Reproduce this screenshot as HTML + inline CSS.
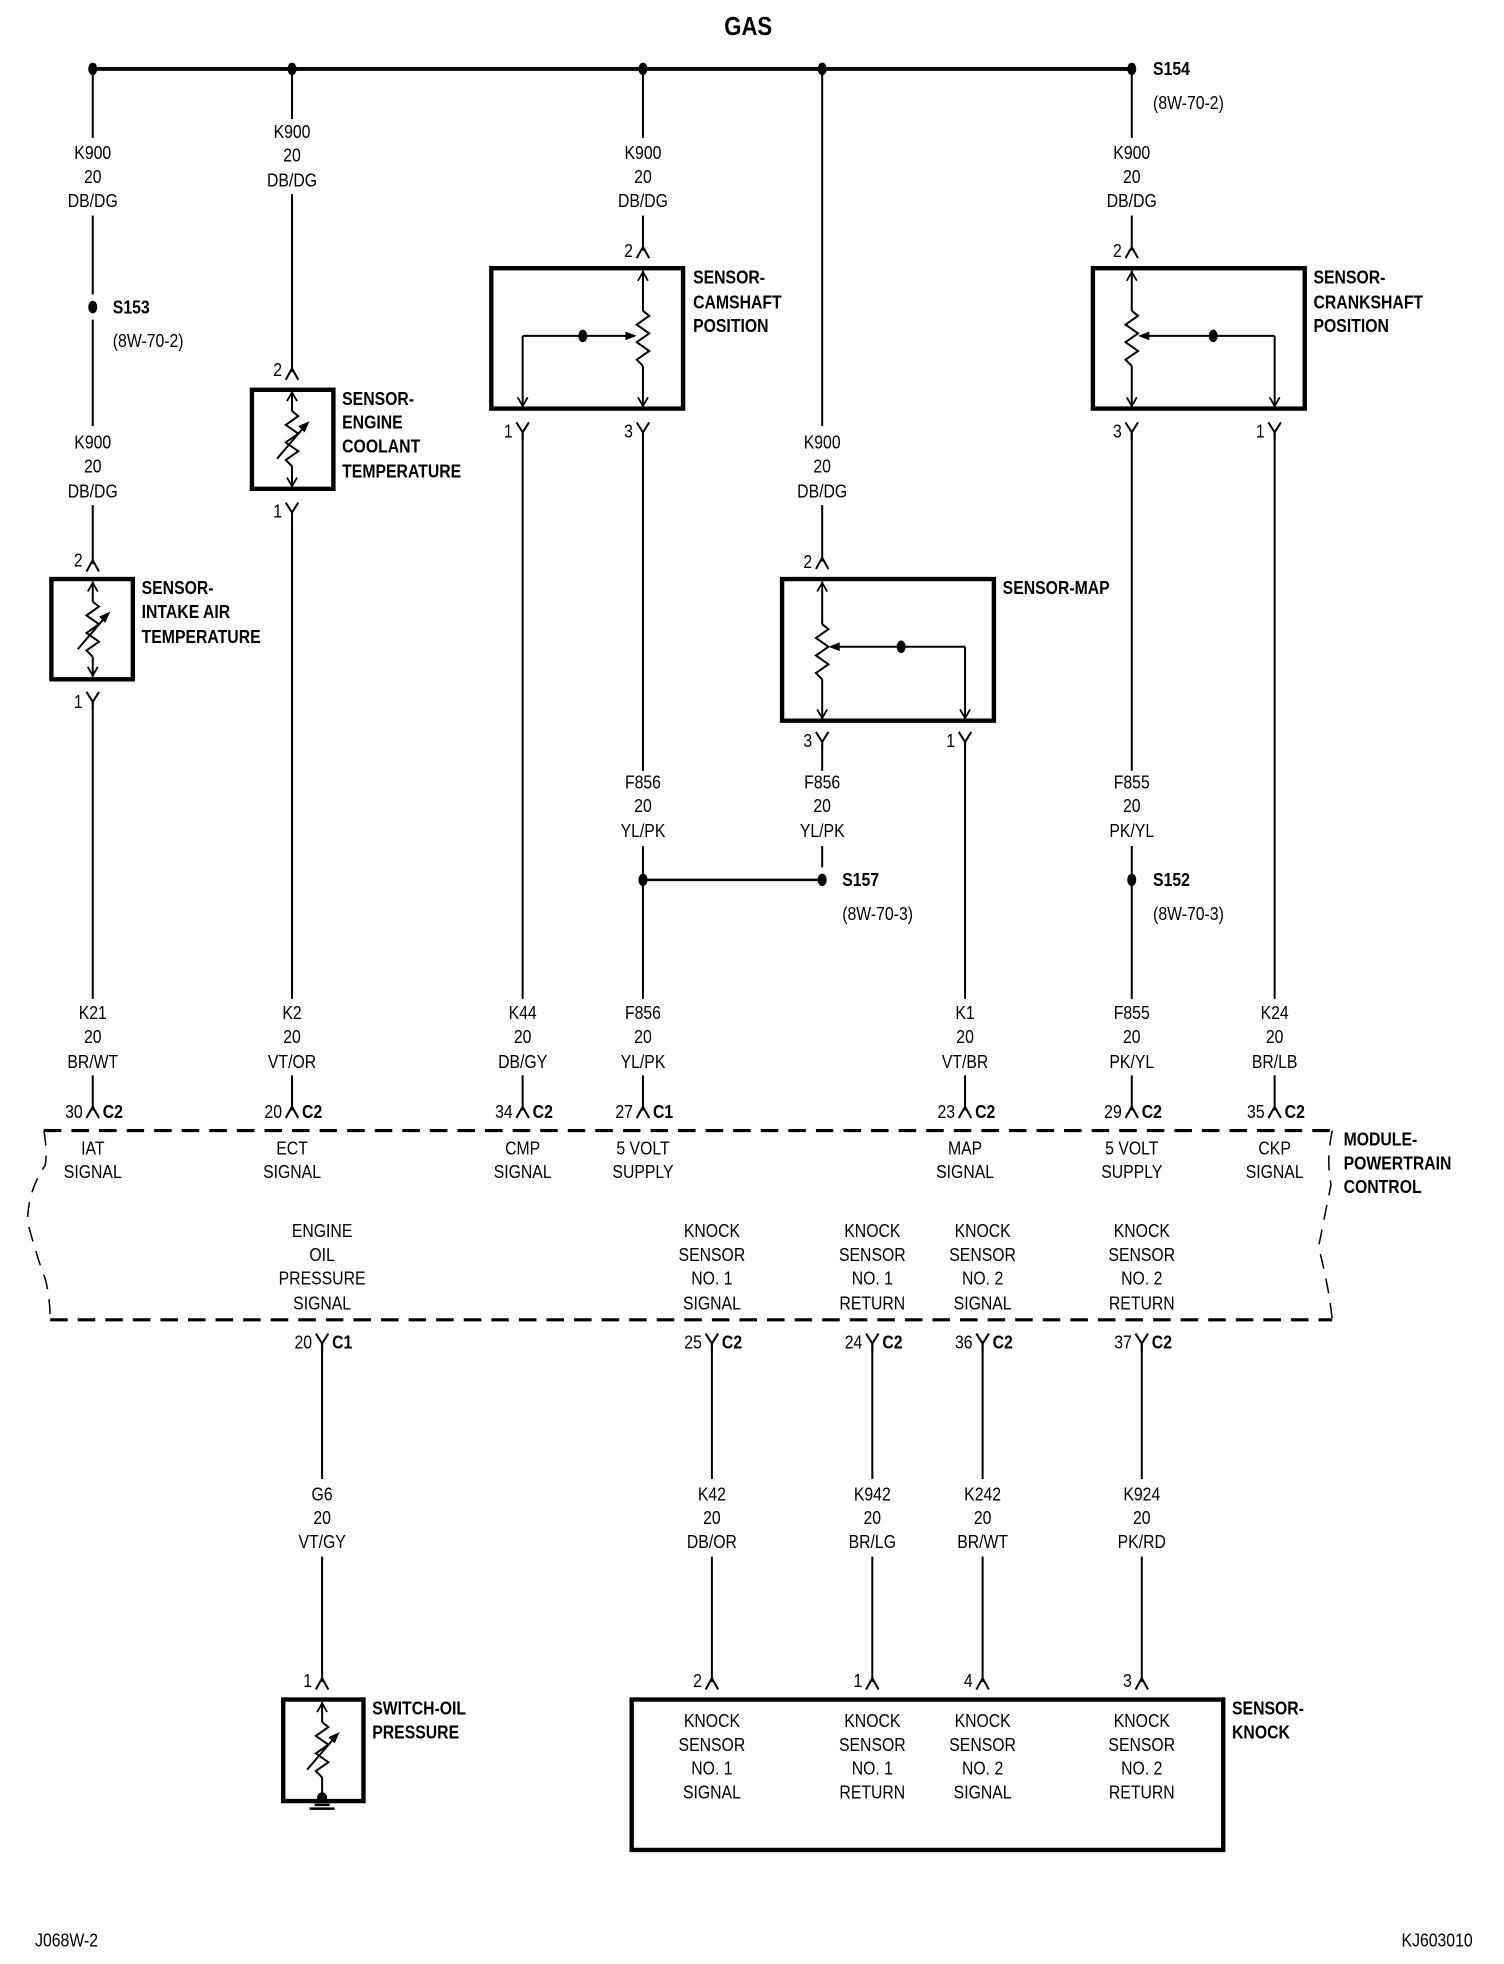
<!DOCTYPE html>
<html><head><meta charset="utf-8"><style>
html,body{margin:0;padding:0;background:#fff;}
svg{display:block;}
text{font-family:"Liberation Sans Narrow","Liberation Sans",sans-serif;font-size:15px;fill:#000;transform-box:fill-box;transform-origin:left center;transform:scaleX(.84);}
.c{text-anchor:middle;transform-origin:center;}
.b{font-weight:bold;}
.r{text-anchor:end;transform-origin:right center;}
</style></head><body>
<svg width="1504" height="1964" viewBox="0 0 1200 1567" preserveAspectRatio="none" xmlns="http://www.w3.org/2000/svg">
<defs>
<g id="dot"><ellipse cx="0" cy="0" rx="3.6" ry="5" fill="#000"/></g>
<g id="fem"><path d="M-5,6 L0,-3 L5,6" fill="none" stroke="#000" stroke-width="1.6"/></g>
<g id="male"><path d="M-5,-6 L0,2 L5,-6" fill="none" stroke="#000" stroke-width="1.6"/><line x1="0" y1="2" x2="0" y2="8" stroke="#000" stroke-width="1.6"/></g>
<g id="up"><path d="M-4,7 L0,0 L4,7" fill="none" stroke="#000" stroke-width="1.4"/></g>
<g id="dn"><path d="M-4,-7 L0,0 L4,-7" fill="none" stroke="#000" stroke-width="1.4"/></g>
<g id="lf"><path d="M0,0 L9,-3.5 L9,3.5 Z" fill="#000"/></g>
<g id="rt"><path d="M0,0 L-9,-3.5 L-9,3.5 Z" fill="#000"/></g>
<g id="zig"><path d="M0,-22 L5,-18 L-5,-11 L5,-4 L-5,3 L5,10 L-5,17 L0,22" fill="none" stroke="#000" stroke-width="1.6"/></g>
<g id="therm">
 <line x1="0" y1="-38" x2="0" y2="-22" stroke="#000" stroke-width="1.6"/>
 <use href="#zig"/>
 <line x1="0" y1="22" x2="0" y2="38" stroke="#000" stroke-width="1.6"/>
 <line x1="-12" y1="16" x2="12" y2="-12" stroke="#000" stroke-width="1.6"/>
 <path d="M14,-14 L5,-10 L10,-5 Z" fill="#000"/>
</g>
</defs>

<g stroke="#000" stroke-width="2" fill="none">
<line x1="74" y1="55" x2="903" y2="55" stroke-width="3"/>
<line x1="74" y1="55" x2="74" y2="110" stroke-width="1.6"/>
<line x1="74" y1="172" x2="74" y2="235" stroke-width="1.6"/>
<line x1="74" y1="255" x2="74" y2="340" stroke-width="1.6"/>
<line x1="74" y1="403" x2="74" y2="450" stroke-width="1.6"/>
<rect x="41" y="462" width="65" height="80" stroke-width="3.5"/>
<line x1="74" y1="560" x2="74" y2="797" stroke-width="1.6"/>
<line x1="74" y1="858" x2="74" y2="886" stroke-width="1.6"/>
<line x1="233" y1="55" x2="233" y2="95" stroke-width="1.6"/>
<line x1="233" y1="155" x2="233" y2="297" stroke-width="1.6"/>
<rect x="201" y="311" width="65" height="79" stroke-width="3.5"/>
<line x1="233" y1="409" x2="233" y2="797" stroke-width="1.6"/>
<line x1="233" y1="858" x2="233" y2="886" stroke-width="1.6"/>
<line x1="513" y1="55" x2="513" y2="110" stroke-width="1.6"/>
<line x1="513" y1="172" x2="513" y2="200" stroke-width="1.6"/>
<rect x="392" y="214" width="153" height="112" stroke-width="3.5"/>
<line x1="513" y1="216" x2="513" y2="248" stroke-width="1.6"/>
<line x1="513" y1="292" x2="513" y2="324" stroke-width="1.6"/>
<line x1="417" y1="268" x2="505" y2="268" stroke-width="1.6"/>
<line x1="417" y1="268" x2="417" y2="324" stroke-width="1.6"/>
<line x1="417" y1="345" x2="417" y2="797" stroke-width="1.6"/>
<line x1="513" y1="345" x2="513" y2="615" stroke-width="1.6"/>
<line x1="513" y1="675" x2="513" y2="797" stroke-width="1.6"/>
<line x1="417" y1="858" x2="417" y2="886" stroke-width="1.6"/>
<line x1="513" y1="858" x2="513" y2="886" stroke-width="1.6"/>
<line x1="513" y1="702" x2="656" y2="702" stroke-width="2"/>
<line x1="656" y1="55" x2="656" y2="340" stroke-width="1.6"/>
<line x1="656" y1="403" x2="656" y2="448" stroke-width="1.6"/>
<rect x="624" y="462" width="169" height="113" stroke-width="3.5"/>
<line x1="656" y1="464" x2="656" y2="498" stroke-width="1.6"/>
<line x1="656" y1="542" x2="656" y2="573" stroke-width="1.6"/>
<line x1="664" y1="516" x2="770" y2="516" stroke-width="1.6"/>
<line x1="770" y1="516" x2="770" y2="573" stroke-width="1.6"/>
<line x1="656" y1="592" x2="656" y2="615" stroke-width="1.6"/>
<line x1="656" y1="675" x2="656" y2="692" stroke-width="1.6"/>
<line x1="770" y1="592" x2="770" y2="797" stroke-width="1.6"/>
<line x1="770" y1="858" x2="770" y2="886" stroke-width="1.6"/>
<line x1="903" y1="55" x2="903" y2="110" stroke-width="1.6"/>
<line x1="903" y1="172" x2="903" y2="200" stroke-width="1.6"/>
<rect x="872" y="214" width="169" height="112" stroke-width="3.5"/>
<line x1="903" y1="216" x2="903" y2="248" stroke-width="1.6"/>
<line x1="903" y1="292" x2="903" y2="324" stroke-width="1.6"/>
<line x1="912" y1="268" x2="1017" y2="268" stroke-width="1.6"/>
<line x1="1017" y1="268" x2="1017" y2="324" stroke-width="1.6"/>
<line x1="903" y1="345" x2="903" y2="615" stroke-width="1.6"/>
<line x1="903" y1="675" x2="903" y2="797" stroke-width="1.6"/>
<line x1="1017" y1="345" x2="1017" y2="797" stroke-width="1.6"/>
<line x1="903" y1="858" x2="903" y2="886" stroke-width="1.6"/>
<line x1="1017" y1="858" x2="1017" y2="886" stroke-width="1.6"/>
<path d="M35,902 L1063,902" stroke-width="2.5" stroke-dasharray="14,8"/>
<path d="M40,1053 L1063,1053" stroke-width="2.5" stroke-dasharray="14,8"/>
<path d="M35,902 Q38,920 36,930 Q22,950 22,975 Q30,1005 36,1020 Q40,1035 40,1053" stroke-width="1.2" stroke-dasharray="12,8"/>
<path d="M1063,902 Q1058,925 1062,945 Q1056,975 1052,995 Q1060,1025 1063,1053" stroke-width="1.2" stroke-dasharray="12,8"/>
<line x1="257" y1="1072" x2="257" y2="1180" stroke-width="1.6"/>
<line x1="257" y1="1242" x2="257" y2="1342" stroke-width="1.6"/>
<line x1="568" y1="1072" x2="568" y2="1180" stroke-width="1.6"/>
<line x1="568" y1="1242" x2="568" y2="1342" stroke-width="1.6"/>
<line x1="696" y1="1072" x2="696" y2="1180" stroke-width="1.6"/>
<line x1="696" y1="1242" x2="696" y2="1342" stroke-width="1.6"/>
<line x1="784" y1="1072" x2="784" y2="1180" stroke-width="1.6"/>
<line x1="784" y1="1242" x2="784" y2="1342" stroke-width="1.6"/>
<line x1="911" y1="1072" x2="911" y2="1180" stroke-width="1.6"/>
<line x1="911" y1="1242" x2="911" y2="1342" stroke-width="1.6"/>
<rect x="226" y="1356" width="64" height="81" stroke-width="3.5"/>
<rect x="504" y="1356" width="472" height="120" stroke-width="3.5"/>
</g>

<use href="#dot" x="74" y="55"/><use href="#dot" x="233" y="55"/><use href="#dot" x="513" y="55"/><use href="#dot" x="656" y="55"/><use href="#dot" x="903" y="55"/>
<use href="#dot" x="74" y="245"/>
<use href="#dot" x="465" y="268"/><use href="#dot" x="719" y="516"/><use href="#dot" x="968" y="268"/>
<use href="#dot" x="513" y="702"/><use href="#dot" x="656" y="702"/><use href="#dot" x="903" y="702"/>

<use href="#therm" x="74" y="502"/>
<use href="#therm" x="233" y="350"/>
<use href="#up" x="74" y="465"/><use href="#dn" x="74" y="539"/>
<use href="#up" x="233" y="313"/><use href="#dn" x="233" y="388"/>
<use href="#therm" x="257" y="1396"/>
<use href="#up" x="257" y="1359"/>
<path d="M251,1440 L263,1440 M247,1443 L267,1443" stroke="#000" stroke-width="2"/>
<circle cx="257" cy="1434" r="4" fill="#000"/>

<use href="#zig" x="513" y="270"/><use href="#up" x="513" y="217"/><use href="#dn" x="513" y="324"/><use href="#rt" x="508" y="268"/><use href="#dn" x="417" y="324"/>
<use href="#zig" x="656" y="520"/><use href="#up" x="656" y="465"/><use href="#dn" x="656" y="573"/><use href="#lf" x="661" y="516"/><use href="#dn" x="770" y="573"/>
<use href="#zig" x="903" y="270"/><use href="#up" x="903" y="217"/><use href="#dn" x="903" y="324"/><use href="#lf" x="908" y="268"/><use href="#dn" x="1017" y="324"/>

<use href="#fem" x="74" y="450"/><use href="#fem" x="233" y="297"/><use href="#fem" x="513" y="200"/><use href="#fem" x="656" y="448"/><use href="#fem" x="903" y="200"/>
<use href="#male" x="74" y="558"/><use href="#male" x="233" y="407"/><use href="#male" x="417" y="343"/><use href="#male" x="513" y="343"/>
<use href="#male" x="656" y="590"/><use href="#male" x="770" y="590"/><use href="#male" x="903" y="343"/><use href="#male" x="1017" y="343"/>
<use href="#fem" x="74" y="886"/><use href="#fem" x="233" y="886"/><use href="#fem" x="417" y="886"/><use href="#fem" x="513" y="886"/><use href="#fem" x="770" y="886"/><use href="#fem" x="903" y="886"/><use href="#fem" x="1017" y="886"/>
<use href="#male" x="257" y="1070"/><use href="#male" x="568" y="1070"/><use href="#male" x="696" y="1070"/><use href="#male" x="784" y="1070"/><use href="#male" x="911" y="1070"/>
<use href="#fem" x="257" y="1342"/><use href="#fem" x="568" y="1342"/><use href="#fem" x="696" y="1342"/><use href="#fem" x="784" y="1342"/><use href="#fem" x="911" y="1342"/>

<g>
<text x="66" y="452" class="r">2</text><text x="225" y="300" class="r">2</text><text x="505" y="205" class="r">2</text><text x="648" y="453" class="r">2</text><text x="895" y="205" class="r">2</text>
<text x="66" y="565" class="r">1</text><text x="225" y="413" class="r">1</text><text x="409" y="349" class="r">1</text><text x="505" y="349" class="r">3</text>
<text x="648" y="596" class="r">3</text><text x="762" y="596" class="r">1</text><text x="895" y="349" class="r">3</text><text x="1009" y="349" class="r">1</text>
<text x="66" y="892" class="r">30</text><text x="225" y="892" class="r">20</text><text x="409" y="892" class="r">34</text><text x="505" y="892" class="r">27</text><text x="762" y="892" class="r">23</text><text x="895" y="892" class="r">29</text><text x="1009" y="892" class="r">35</text>
<text x="82" y="892" class="b">C2</text><text x="241" y="892" class="b">C2</text><text x="425" y="892" class="b">C2</text><text x="521" y="892" class="b">C1</text><text x="778" y="892" class="b">C2</text><text x="911" y="892" class="b">C2</text><text x="1025" y="892" class="b">C2</text>
<text x="249" y="1076" class="r">20</text><text x="560" y="1076" class="r">25</text><text x="688" y="1076" class="r">24</text><text x="776" y="1076" class="r">36</text><text x="903" y="1076" class="r">37</text>
<text x="265" y="1076" class="b">C1</text><text x="576" y="1076" class="b">C2</text><text x="704" y="1076" class="b">C2</text><text x="792" y="1076" class="b">C2</text><text x="919" y="1076" class="b">C2</text>
<text x="249" y="1346" class="r">1</text><text x="560" y="1346" class="r">2</text><text x="688" y="1346" class="r">1</text><text x="776" y="1346" class="r">4</text><text x="903" y="1346" class="r">3</text>
</g>

<g>
<text x="74" y="127" class="c">K900</text><text x="74" y="146" class="c">20</text><text x="74" y="165" class="c">DB/DG</text>
<text x="233" y="110" class="c">K900</text><text x="233" y="129" class="c">20</text><text x="233" y="149" class="c">DB/DG</text>
<text x="513" y="127" class="c">K900</text><text x="513" y="146" class="c">20</text><text x="513" y="165" class="c">DB/DG</text>
<text x="903" y="127" class="c">K900</text><text x="903" y="146" class="c">20</text><text x="903" y="165" class="c">DB/DG</text>
<text x="74" y="358" class="c">K900</text><text x="74" y="377" class="c">20</text><text x="74" y="397" class="c">DB/DG</text>
<text x="656" y="358" class="c">K900</text><text x="656" y="377" class="c">20</text><text x="656" y="397" class="c">DB/DG</text>
<text x="513" y="629" class="c">F856</text><text x="513" y="648" class="c">20</text><text x="513" y="668" class="c">YL/PK</text>
<text x="656" y="629" class="c">F856</text><text x="656" y="648" class="c">20</text><text x="656" y="668" class="c">YL/PK</text>
<text x="903" y="629" class="c">F855</text><text x="903" y="648" class="c">20</text><text x="903" y="668" class="c">PK/YL</text>
<text x="74" y="813" class="c">K21</text><text x="74" y="832" class="c">20</text><text x="74" y="852" class="c">BR/WT</text>
<text x="233" y="813" class="c">K2</text><text x="233" y="832" class="c">20</text><text x="233" y="852" class="c">VT/OR</text>
<text x="417" y="813" class="c">K44</text><text x="417" y="832" class="c">20</text><text x="417" y="852" class="c">DB/GY</text>
<text x="513" y="813" class="c">F856</text><text x="513" y="832" class="c">20</text><text x="513" y="852" class="c">YL/PK</text>
<text x="770" y="813" class="c">K1</text><text x="770" y="832" class="c">20</text><text x="770" y="852" class="c">VT/BR</text>
<text x="903" y="813" class="c">F855</text><text x="903" y="832" class="c">20</text><text x="903" y="852" class="c">PK/YL</text>
<text x="1017" y="813" class="c">K24</text><text x="1017" y="832" class="c">20</text><text x="1017" y="852" class="c">BR/LB</text>
<text x="257" y="1197" class="c">G6</text><text x="257" y="1216" class="c">20</text><text x="257" y="1235" class="c">VT/GY</text>
<text x="568" y="1197" class="c">K42</text><text x="568" y="1216" class="c">20</text><text x="568" y="1235" class="c">DB/OR</text>
<text x="696" y="1197" class="c">K942</text><text x="696" y="1216" class="c">20</text><text x="696" y="1235" class="c">BR/LG</text>
<text x="784" y="1197" class="c">K242</text><text x="784" y="1216" class="c">20</text><text x="784" y="1235" class="c">BR/WT</text>
<text x="911" y="1197" class="c">K924</text><text x="911" y="1216" class="c">20</text><text x="911" y="1235" class="c">PK/RD</text>
<text x="74" y="921" class="c">IAT</text><text x="74" y="940" class="c">SIGNAL</text>
<text x="233" y="921" class="c">ECT</text><text x="233" y="940" class="c">SIGNAL</text>
<text x="417" y="921" class="c">CMP</text><text x="417" y="940" class="c">SIGNAL</text>
<text x="513" y="921" class="c">5 VOLT</text><text x="513" y="940" class="c">SUPPLY</text>
<text x="770" y="921" class="c">MAP</text><text x="770" y="940" class="c">SIGNAL</text>
<text x="903" y="921" class="c">5 VOLT</text><text x="903" y="940" class="c">SUPPLY</text>
<text x="1017" y="921" class="c">CKP</text><text x="1017" y="940" class="c">SIGNAL</text>
<text x="257" y="987" class="c">ENGINE</text><text x="257" y="1006" class="c">OIL</text><text x="257" y="1025" class="c">PRESSURE</text><text x="257" y="1045" class="c">SIGNAL</text>
<text x="568" y="987" class="c">KNOCK</text><text x="568" y="1006" class="c">SENSOR</text><text x="568" y="1025" class="c">NO. 1</text><text x="568" y="1045" class="c">SIGNAL</text>
<text x="696" y="987" class="c">KNOCK</text><text x="696" y="1006" class="c">SENSOR</text><text x="696" y="1025" class="c">NO. 1</text><text x="696" y="1045" class="c">RETURN</text>
<text x="784" y="987" class="c">KNOCK</text><text x="784" y="1006" class="c">SENSOR</text><text x="784" y="1025" class="c">NO. 2</text><text x="784" y="1045" class="c">SIGNAL</text>
<text x="911" y="987" class="c">KNOCK</text><text x="911" y="1006" class="c">SENSOR</text><text x="911" y="1025" class="c">NO. 2</text><text x="911" y="1045" class="c">RETURN</text>
<text x="568" y="1378" class="c">KNOCK</text><text x="568" y="1397" class="c">SENSOR</text><text x="568" y="1416" class="c">NO. 1</text><text x="568" y="1435" class="c">SIGNAL</text>
<text x="696" y="1378" class="c">KNOCK</text><text x="696" y="1397" class="c">SENSOR</text><text x="696" y="1416" class="c">NO. 1</text><text x="696" y="1435" class="c">RETURN</text>
<text x="784" y="1378" class="c">KNOCK</text><text x="784" y="1397" class="c">SENSOR</text><text x="784" y="1416" class="c">NO. 2</text><text x="784" y="1435" class="c">SIGNAL</text>
<text x="911" y="1378" class="c">KNOCK</text><text x="911" y="1397" class="c">SENSOR</text><text x="911" y="1416" class="c">NO. 2</text><text x="911" y="1435" class="c">RETURN</text>
</g>

<text x="597" y="28" class="c b" style="font-size:21px">GAS</text>
<text x="920" y="60" class="b">S154</text><text x="920" y="87">(8W-70-2)</text>
<text x="90" y="250" class="b">S153</text><text x="90" y="277">(8W-70-2)</text>
<text x="672" y="707" class="b">S157</text><text x="672" y="734">(8W-70-3)</text>
<text x="920" y="707" class="b">S152</text><text x="920" y="734">(8W-70-3)</text>
<g>
<text x="113" y="474" class="b">SENSOR-</text><text x="113" y="493" class="b">INTAKE AIR</text><text x="113" y="513" class="b">TEMPERATURE</text>
<text x="273" y="323" class="b">SENSOR-</text><text x="273" y="342" class="b">ENGINE</text><text x="273" y="361" class="b">COOLANT</text><text x="273" y="381" class="b">TEMPERATURE</text>
<text x="553" y="226" class="b">SENSOR-</text><text x="553" y="246" class="b">CAMSHAFT</text><text x="553" y="265" class="b">POSITION</text>
<text x="1048" y="226" class="b">SENSOR-</text><text x="1048" y="246" class="b">CRANKSHAFT</text><text x="1048" y="265" class="b">POSITION</text>
<text x="800" y="474" class="b">SENSOR-MAP</text>
<text x="1072" y="914" class="b">MODULE-</text><text x="1072" y="933" class="b">POWERTRAIN</text><text x="1072" y="952" class="b">CONTROL</text>
<text x="297" y="1368" class="b">SWITCH-OIL</text><text x="297" y="1387" class="b">PRESSURE</text>
<text x="983" y="1368" class="b">SENSOR-</text><text x="983" y="1387" class="b">KNOCK</text>
</g>
<text x="28" y="1553">J068W-2</text>
<text x="1175" y="1553" class="r">KJ603010</text>
</svg>
</body></html>
